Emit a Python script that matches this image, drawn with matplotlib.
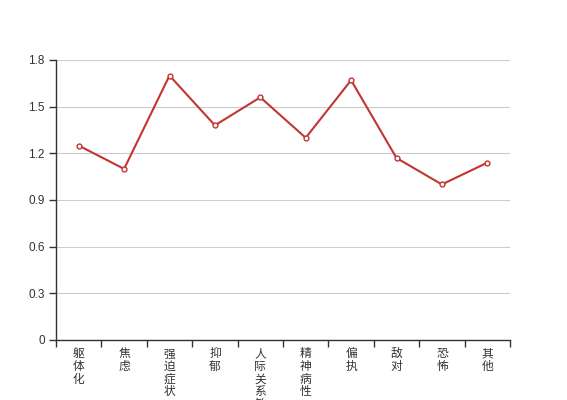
import matplotlib
matplotlib.use("Agg")
import matplotlib.pyplot as plt
import numpy as np

plt.rcParams['font.family'] = ['Liberation Sans', 'Noto Sans CJK SC', 'DejaVu Sans']

# data
categories = ['躯体化', '焦虑', '强迫症状', '抑郁', '人际关系敏感',
              '精神病性', '偏执', '敌对', '恐怖', '其他']
values = [1.25, 1.10, 1.70, 1.38, 1.56, 1.30, 1.67, 1.17, 1.00, 1.14]
y_ticks = [0, 0.3, 0.6, 0.9, 1.2, 1.5, 1.8]
y_tick_labels = ['0', '0.3', '0.6', '0.9', '1.2', '1.5', '1.8']

line_color = '#c23531'
axis_color = '#333333'

fig = plt.figure(figsize=(5.67, 4.0), dpi=100)
ax = fig.add_axes([56 / 567, 60 / 400, 454 / 567, 280 / 400])

x = np.arange(len(categories))
ax.plot(x, values, color=line_color, lw=1.5, marker='o', markersize=3.5,
        markerfacecolor='white', markeredgecolor=line_color, markeredgewidth=1,
        zorder=3, clip_on=False)

ax.set_xlim(-0.5, len(categories) - 0.5)
ax.set_ylim(0, 1.8)

# y axis
ax.set_yticks(y_ticks)
ax.set_yticklabels(y_tick_labels, fontsize=8.5)
ax.grid(axis='y', color='#cccccc', lw=0.8)
ax.set_axisbelow(True)

# x axis: tick marks at category boundaries, labels at centres (vertical text)
ax.set_xticks(np.arange(-0.5, len(categories)), minor=True)
ax.set_xticks(x)
ax.set_xticklabels(['\n'.join(c) for c in categories], fontsize=8.5, linespacing=1.07)
ax.tick_params(axis='x', which='major', length=0, pad=6)
ax.tick_params(axis='x', which='minor', length=5, color=axis_color, width=1)
ax.tick_params(axis='y', length=5, color=axis_color, width=1, pad=3)
ax.tick_params(labelcolor=axis_color)

for side in ['top', 'right']:
    ax.spines[side].set_visible(False)
for side in ['left', 'bottom']:
    ax.spines[side].set_color(axis_color)
    ax.spines[side].set_linewidth(1)

fig.savefig('out.png', dpi=100)
